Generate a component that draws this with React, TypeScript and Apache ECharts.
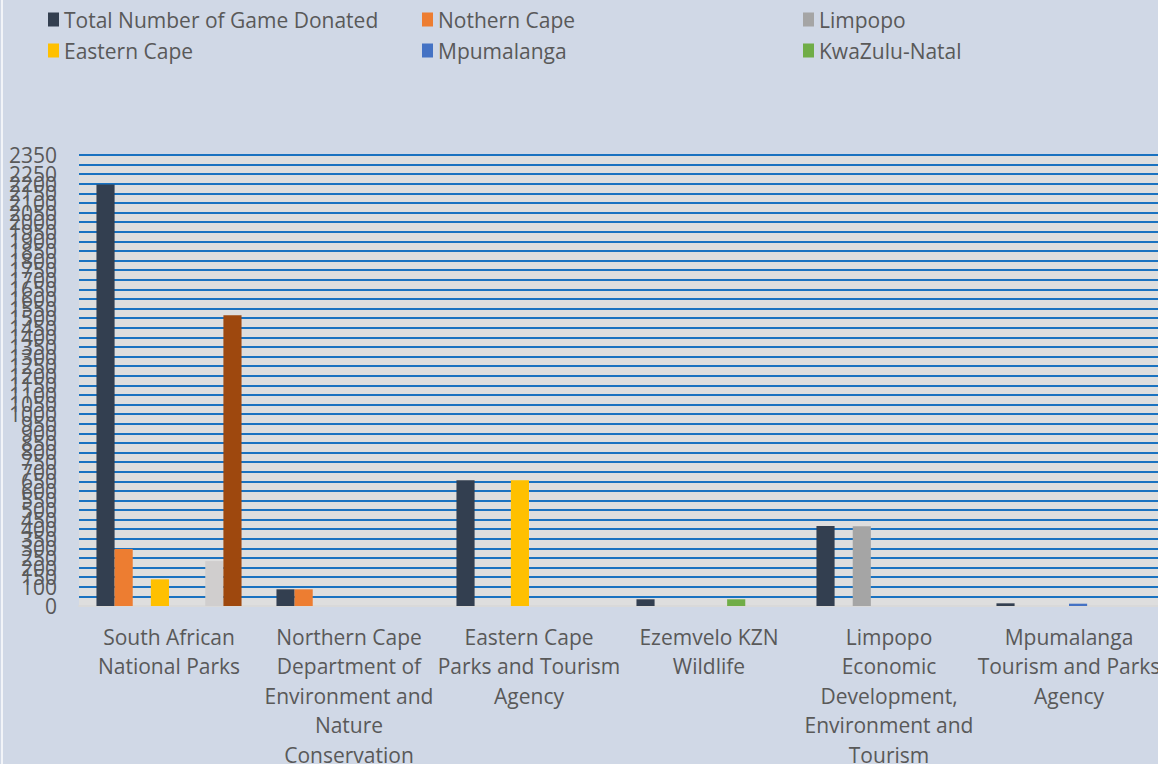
import React, { useEffect, useRef } from "react";
import * as echarts from "echarts";

const categories = [
  "South African\nNational Parks",
  "Northern Cape\nDepartment of\nEnvironment and\nNature\nConservation",
  "Eastern Cape\nParks and Tourism\nAgency",
  "Ezemvelo KZN\nWildlife",
  "Limpopo\nEconomic\nDevelopment,\nEnvironment and\nTourism",
  "Mpumalanga\nTourism and Parks\nAgency",
];

const totalDonated = [2196, 87, 655, 35, 417, 14];
const northernCape = [297, 87, null, null, null, null];
const limpopo = [null, null, null, null, 416, null];
const easternCape = [139, null, 655, null, null, null];
const mpumalanga = [null, null, null, null, null, 12];
const kwaZuluNatal = [null, null, null, 35, null, null];
const series7 = [234, null, null, null, null, null];
const series8 = [1515, null, null, null, null, null];

const seriesNames = [
  "Total Number of Game Donated",
  "Nothern Cape",
  "Limpopo",
  "Eastern Cape",
  "Mpumalanga",
  "KwaZulu-Natal",
  "Series7",
  "Series8",
];
const seriesData = [totalDonated, northernCape, limpopo, easternCape, mpumalanga, kwaZuluNatal, series7, series8];
const seriesColors = ["#333f50", "#ed7d31", "#a5a5a5", "#ffc000", "#4472c4", "#70ad47", "#d0cece", "#9e480e"];

const FONT = "'Open Sans', sans-serif";
const TEXT = "#595959";

export default function App() {
  const ref = useRef<HTMLDivElement>(null);
  useEffect(() => {
    if (!ref.current) return;
    const chart = echarts.init(ref.current, null, { renderer: "svg" });
    const legendCol = (left: number, names: string[]) => ({
      show: true,
      orient: "vertical",
      left,
      top: 9,
      padding: 0,
      itemWidth: 11,
      itemHeight: 14,
      itemGap: 10,
      icon: "rect",
      data: names,
      textStyle: { fontFamily: FONT, fontSize: 21, color: TEXT },
    });
    chart.setOption({
      animation: false,
      backgroundColor: "#d0d8e6",
      textStyle: { fontFamily: FONT },
      legend: [
        legendCol(48, [seriesNames[0], seriesNames[3]]),
        legendCol(422, [seriesNames[1], seriesNames[4]]),
        legendCol(803, [seriesNames[2], seriesNames[5]]),
      ],
      grid: {
        left: 79,
        top: 155,
        right: -1,
        bottom: 158,
        show: true,
        backgroundColor: "#dedede",
        borderWidth: 0,
        containLabel: false,
        outerBoundsMode: "none",
      },
      xAxis: {
        type: "category",
        data: categories,
        axisTick: { show: false },
        axisLine: { show: true, lineStyle: { color: "#d9d9d9", width: 2 } },
        axisLabel: {
          interval: 0,
          margin: 16,
          fontFamily: FONT,
          fontSize: 21,
          lineHeight: 29.5,
          color: TEXT,
          align: "center",
        },
      },
      yAxis: {
        type: "value",
        min: 0,
        max: 2350,
        interval: 50,
        axisLine: { show: false },
        axisTick: { show: false },
        splitLine: { show: true, lineStyle: { color: "#1a72c0", width: 2 } },
        axisLabel: {
          interval: 0,
          margin: 22,
          fontFamily: FONT,
          fontSize: 21,
          color: TEXT,
          showMinLabel: true,
          showMaxLabel: true,
          hideOverlap: false,
          formatter: (v: number) => String(v),
        },
      },
      series: seriesNames.map((name, i) => ({
        name,
        type: "bar",
        data: seriesData[i],
        barGap: "0%",
        barCategoryGap: "19.4%",
        itemStyle: { color: seriesColors[i] },
      })),
      graphic: [
        {
          type: "rect",
          shape: { x: 1, y: 0, width: 2, height: 764 },
          style: { fill: "#f2f4f8" },
          silent: true,
        },
      ],
    });
    return () => chart.dispose();
  }, []);
  return (
    <div
      ref={ref}
      style={{ position: "absolute", left: 0, top: 0, width: 1158, height: 764 }}
    />
  );
}
